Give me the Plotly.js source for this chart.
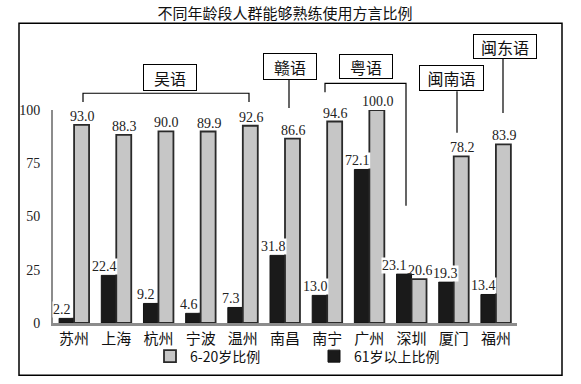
<!DOCTYPE html>
<html><head><meta charset="utf-8">
<script src="https://cdn.plot.ly/plotly-3.0.1.min.js"></script>
<style>html,body{margin:0;padding:0;background:#fff}#chart{width:581px;height:384px}</style>
</head><body><div id="chart"></div>
<script>
var cities = ['苏州','上海','杭州','宁波','温州','南昌','南宁','广州','深圳','厦门','福州'];
var young = [93.0, 88.3, 90.0, 89.9, 92.6, 86.6, 94.6, 100.0, 20.6, 78.2, 83.9];
var old = [2.2, 22.4, 9.2, 4.6, 7.3, 31.8, 13.0, 72.1, 23.1, 19.3, 13.4];
var youngName = '6-20岁比例';
var oldName = '61岁以上比例';
var titleText = '不同年龄段人群能够熟练使用方言比例';
var groups = ['吴语','赣语','粤语','闽南语','闽东语'];

var W = 581, H = 384, L = 53, R = 517, T = 110, B = 326;
function px(x){ return (x - L) / (R - L); }
function py(y){ return (B - y) / (B - T); }

var serif = "'Liberation Serif', 'Times New Roman', serif";
var cjk = "'Noto Sans CJK SC', sans-serif";
var labelSize = 14;

var traces = [
  {type:'bar', name: oldName, x: cities, y: old,
   marker:{color:'#1a1a1a', line:{color:'#111', width:1}}},
  {type:'bar', name: youngName, x: cities, y: young,
   marker:{color:'#c6c6c6', line:{color:'#2a2a2a', width:1.8}}}
];

// value labels: anchored at each bar's value; a small pass nudges touching labels apart
var slot = (R - L) / cities.length;
var labels = [];
cities.forEach(function(c, i){
  [[old[i], -12], [young[i], 8.5]].forEach(function(p){
    var t = p[0].toFixed(1);
    labels.push({city: c, v: p[0], text: t, shift: p[1],
      cx: L + slot * (i + 0.5) + p[1], w: t.length * labelSize * 0.5 - labelSize * 0.25,
      yb: B - p[0] / 100 * (B - T), isOld: p[1] < 0});
  });
});
for (var it = 0; it < 30; it++) {
  for (var k = 0; k < labels.length - 1; k++) {
    var a = labels[k], b = labels[k + 1];
    var ov = (a.cx + a.w / 2 + 1) - (b.cx - b.w / 2);
    if (ov > 0 && Math.abs(a.yb - b.yb) < labelSize + 2) { a.cx -= ov / 2; b.cx += ov / 2; }
  }
}
var annotations = labels.map(function(l, k){
  var base = L + slot * (Math.floor(k / 2) + 0.5);
  return {x: l.city, y: l.v, xref:'x', yref:'y', text: l.text, showarrow:false,
    xanchor:'center', yanchor:'bottom', xshift: l.cx - base, yshift: 0, borderpad:0,
    bgcolor: l.isOld ? '#fff' : 'rgba(0,0,0,0)', font:{family:serif, size:labelSize, color:'#222'}};
});

// group label boxes: [text, center px x, center px y, width, height]
var boxes = [
  [groups[0], 170, 77.5, 54, 27],
  [groups[1], 290, 65.5, 54, 27],
  [groups[2], 366, 65.5, 54, 25],
  [groups[3], 451.5, 78, 65, 26],
  [groups[4], 505, 45.5, 64, 25]
];
boxes.forEach(function(b){
  annotations.push({text: b[0], xref:'paper', yref:'paper', x: px(b[1]), y: py(b[2]),
    xanchor:'center', yanchor:'middle', showarrow:false,
    width: b[3]-2, height: b[4]-2, borderpad:0, bordercolor:'#000', borderwidth:1, bgcolor:'#fff',
    font:{family:cjk, size:16, color:'#111'}});
});

function path(pts){
  return 'M' + pts.map(function(p){ return px(p[0]) + ',' + py(p[1]); }).join(' L');
}
var lineStyle = {color:'#000', width:1.2};
var shapes = [
  {type:'rect', xref:'paper', yref:'paper', x0: px(19), x1: px(562), y0: py(379), y1: py(22), line:{color:'#000', width:1.5}, layer:'below'},
  {type:'path', xref:'paper', yref:'paper', path: path([[83,102],[83,93],[249,93],[249,102]]), line: lineStyle},
  {type:'path', xref:'paper', yref:'paper', path: path([[289,79],[289,108]]), line: lineStyle},
  {type:'path', xref:'paper', yref:'paper', path: path([[325,92],[325,83],[406,83],[406,207]]), line: lineStyle},
  {type:'path', xref:'paper', yref:'paper', path: path([[457,91],[457,133]]), line: lineStyle},
  {type:'path', xref:'paper', yref:'paper', path: path([[503,58],[503,113]]), line: lineStyle}
];

var layout = {
  width: W, height: H,
  margin: {l: L, r: W - R, t: T, b: H - B, pad: 0},
  paper_bgcolor:'#fff', plot_bgcolor:'#fff',
  title: {text: titleText, font:{family:cjk, size:15, color:'#111'}, x: 0.5, xanchor:'center', y: 1 - 14/H, yanchor:'middle', xref:'paper'},
  barmode:'group', bargap: 0.29, bargroupgap: 0,
  showlegend: true,
  legend: {orientation:'h', traceorder:'reversed', x: px(150), xanchor:'left', y: py(360), yanchor:'middle',
    font:{family:cjk, size:14, color:'#111'}, bgcolor:'rgba(0,0,0,0)', entrywidth: 119},
  xaxis: {type:'category', range:[-0.5, 10.5], showline:true, linecolor:'#8c8c8c', linewidth:2.5,
    ticks:'', showgrid:false, zeroline:false, fixedrange:true,
    tickfont:{family:cjk, size:15, color:'#111'}},
  yaxis: {range:[0,100], tickvals:[0,25,50,75,100], ticktext:['0','25','50','75','100'],
    showline:true, linecolor:'#8c8c8c', linewidth:2, ticks:'', showgrid:false, zeroline:false,
    ticklabelstandoff: 8, tickfont:{family:serif, size:14, color:'#222'}},
  annotations: annotations,
  shapes: shapes
};
Plotly.newPlot('chart', traces, layout, {displayModeBar:false, staticPlot:true});
</script>
</body></html>
